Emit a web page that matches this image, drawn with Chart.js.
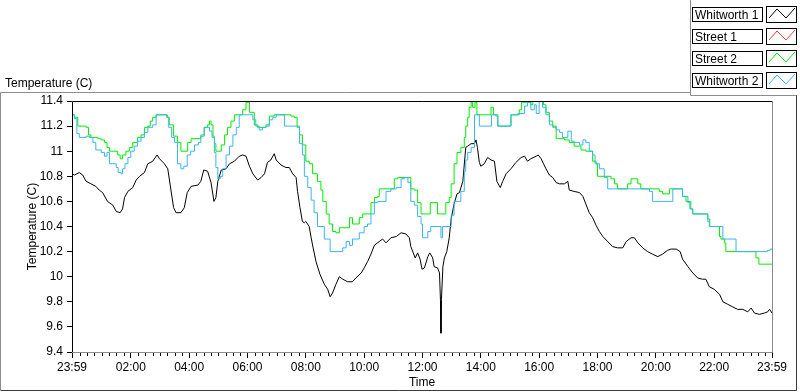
<!DOCTYPE html>
<html>
<head>
<meta charset="utf-8">
<title>Temperature (C)</title>
<script src="https://cdn.jsdelivr.net/npm/chart.js@4.4.1/dist/chart.umd.min.js"></script>
<style>
  html, body { margin: 0; padding: 0; background: #fff; }
  #wrap { position: relative; width: 800px; height: 392px; }
</style>
</head>
<body>
<div id="wrap"><canvas id="tempChart" width="800" height="392"></canvas></div>
<script>
// minutes after 23:59 of the first day
const tickMinutes = [0, 121, 241, 361, 481, 601, 721, 841, 961, 1081, 1201, 1321, 1440];
const tickLabels = ['23:59', '02:00', '04:00', '06:00', '08:00', '10:00', '12:00', '14:00', '16:00', '18:00', '20:00', '22:00', '23:59'];
const seriesNames = ['Whitworth 1', 'Street 1', 'Street 2', 'Whitworth 2'];
const seriesColors = ['#000000', '#ff3b3b', '#00ee00', '#3cb4f0'];

// Whitworth 1
const w1Time = [0,5,15,22,29,39,49,56,63,73,84,91,99,104,108,115,125,132,139,149,156,166,175,180,190,197,202,209,214,224,231,237,245,259,265,271,279,286,292,296,300,307,317,324,334,344,351,358,
  365,372,382,389,396,402,409,416,420,430,440,447,454,461,464,469,474,478,481,488,492,496,502,510,519,526,531,536,543,550,557,567,577,584,595,601,608,615,622,632,639,646,656,667,677,687,694,697,702,706,711,716,
  720,725,732,736,742,745,752,756,758,759,760,763,766,771,776,780,786,792,797,804,810,814,821,828,831,834,838,841,848,855,862,869,874,881,886,893,903,913,924,931,937,944,955,959,965,970,975,982,989,996,1003,1013,1020,1023,1033,1044,1051,1057,1064,
  1071,1078,1085,1092,1102,1112,1122,1133,1140,1150,1157,1164,1174,1184,1194,1205,1215,1225,1232,1243,1251,1256,1267,1277,1287,1297,1304,1311,1321,1332,1339,1349,1359,1369,1380,1390,1397,1404,1414,1424,1431,1435,1440];
const w1Temp = [10.82,10.81,10.83,10.81,10.76,10.74,10.72,10.69,10.67,10.60,10.57,10.52,10.51,10.54,10.63,10.68,10.71,10.77,10.80,10.83,10.90,10.92,10.97,10.94,10.90,10.86,10.73,10.55,10.51,10.51,10.55,10.67,10.72,10.73,10.76,10.85,10.84,10.75,10.60,10.63,10.76,10.85,10.86,10.90,10.92,10.96,10.97,10.96,
  10.88,10.82,10.77,10.79,10.82,10.91,10.93,10.98,10.93,10.89,10.87,10.87,10.82,10.79,10.68,10.55,10.44,10.43,10.44,10.40,10.31,10.23,10.12,10.02,9.94,9.90,9.84,9.87,9.94,10.00,9.98,9.96,9.96,9.99,10.03,10.07,10.12,10.18,10.25,10.28,10.30,10.27,10.31,10.32,10.35,10.34,10.31,10.24,10.19,10.15,10.19,10.14,
  10.06,10.07,10.16,10.19,10.15,10.08,10.07,10.03,9.81,9.55,9.82,10.08,10.15,10.20,10.31,10.46,10.58,10.66,10.67,10.76,11.03,11.04,11.06,11.06,11.09,11.03,10.91,10.88,10.90,10.95,10.93,10.92,10.76,10.71,10.76,10.82,10.86,10.91,10.95,10.96,10.92,10.94,10.96,10.97,10.94,10.90,10.86,10.81,10.79,10.75,10.74,10.74,10.76,10.69,10.68,10.67,10.64,10.58,10.51,
  10.47,10.41,10.36,10.32,10.28,10.24,10.23,10.23,10.28,10.31,10.31,10.27,10.23,10.20,10.18,10.16,10.18,10.21,10.22,10.22,10.20,10.14,10.08,10.03,9.99,9.98,9.98,9.92,9.90,9.86,9.80,9.78,9.76,9.74,9.74,9.72,9.75,9.71,9.70,9.71,9.72,9.74,9.71];

// Street 1 (no readings)
const s1Time = [];
const s1Temp = [];

// Street 2 (held readings)
const s2Time = [0,5,12,29,34,39,53,60,67,72,77,94,99,104,111,118,125,135,142,149,156,161,166,173,196,200,209,217,224,238,245,265,272,279,283,286,290,293,296,307,314,320,327,334,
  351,358,365,375,382,399,406,416,450,457,463,468,474,481,488,495,505,512,516,523,529,536,543,550,571,577,591,598,615,622,629,632,663,670,697,704,
  711,718,737,752,769,776,780,786,792,800,807,810,814,817,821,824,829,833,862,867,876,903,920,925,944,948,970,975,982,989,996,1013,1023,1033,1047,1057,
  1071,1078,1081,1109,1116,1122,1143,1150,1164,1170,1208,1215,1229,1256,1263,1273,1277,1308,1312,1332,1335,1342,1345,1407,1413,1440];
const s2Temp = [11.29,11.27,11.20,11.19,11.13,11.11,11.10,11.09,11.07,11.03,11.00,10.97,10.94,10.97,11.00,11.03,11.07,11.11,11.13,11.19,11.20,11.24,11.27,11.29,11.27,11.21,11.12,11.07,11.00,11.07,11.10,11.12,11.19,11.21,11.24,11.21,11.12,11.06,11.00,11.05,11.13,11.19,11.24,11.29,
  11.33,11.39,11.31,11.21,11.19,11.21,11.28,11.29,11.28,11.27,11.19,11.13,11.05,10.92,10.90,10.82,10.76,10.69,10.60,10.50,10.42,10.36,10.35,10.39,10.47,10.42,10.47,10.50,10.59,10.63,10.64,10.70,10.78,10.79,10.70,10.69,
  10.59,10.50,10.59,10.50,10.59,10.63,10.74,10.90,10.99,11.03,11.11,11.20,11.27,11.35,11.39,11.35,11.39,11.29,11.35,11.29,11.20,11.29,11.33,11.39,11.37,11.40,11.37,11.31,11.24,11.20,11.10,11.09,11.07,11.04,11.01,11.00,
  10.92,10.90,10.80,10.78,10.74,10.70,10.74,10.78,10.74,10.70,10.68,10.66,10.70,10.64,10.60,10.54,10.50,10.46,10.40,10.32,10.30,10.27,10.20,10.15,10.10,10.10];

// Whitworth 2 (held readings)
const w2Time = [0,5,10,15,29,36,43,49,60,67,72,77,91,95,101,104,109,115,121,128,135,142,149,156,166,173,195,199,205,211,217,224,230,237,244,252,260,265,272,283,288,293,296,300,305,310,317,324,331,338,344,
  372,378,385,392,399,406,413,420,437,468,474,478,485,492,498,505,519,531,557,564,571,577,591,601,608,615,622,629,646,656,667,677,684,691,697,704,711,718,
  721,732,738,759,762,780,786,800,807,810,814,821,828,838,863,872,876,903,917,931,937,944,951,955,961,968,975,982,989,996,1003,1009,1020,1027,1033,1044,1051,1057,1064,
  1071,1076,1085,1095,1102,1188,1194,1236,1256,1267,1271,1277,1308,1311,1339,1366,1431,1436,1440];
const w2Temp = [11.29,11.26,11.14,11.11,11.12,11.11,11.07,11.01,10.99,10.96,10.99,10.90,10.87,10.83,10.82,10.86,10.90,10.95,11.00,11.04,11.08,11.11,11.15,11.19,11.21,11.29,11.27,11.19,11.11,11.07,10.90,10.86,10.88,10.97,11.00,11.05,11.07,11.13,11.19,11.16,11.11,10.99,10.87,10.78,10.80,10.86,10.97,11.04,11.13,11.19,11.29,
  11.25,11.20,11.17,11.19,11.20,11.25,11.27,11.29,11.20,11.06,10.97,10.80,10.71,10.61,10.51,10.40,10.30,10.20,10.23,10.28,10.25,10.30,10.35,10.40,10.42,10.50,10.59,10.60,10.68,10.70,10.71,10.78,10.79,10.75,10.60,10.57,10.48,10.42,
  10.31,10.36,10.40,10.31,10.40,10.49,10.60,10.68,10.84,10.93,10.99,11.03,11.29,11.20,11.29,11.28,11.20,11.29,11.30,11.36,11.39,11.33,11.37,11.30,11.40,11.35,11.29,11.21,11.19,11.17,11.15,11.11,11.16,11.08,11.07,11.05,11.09,11.07,11.00,
  10.97,10.90,10.86,10.79,10.70,10.68,10.60,10.70,10.64,10.59,10.54,10.50,10.44,10.40,10.30,10.20,10.21,10.22,10.22];

const uiFont = "'Liberation Sans', Arial, sans-serif";

function toPoints(times, temps) {
    return times.map((t, i) => ({ x: t, y: temps[i] }));
}

// LabVIEW style panel, plot frame, minor ticks and plot legend
const panelPlugin = {
    id: 'panelPlugin',
    beforeDraw(chart) {
        const ctx = chart.ctx;
        ctx.save();
        ctx.fillStyle = '#ffffff';
        ctx.fillRect(0, 0, chart.width, chart.height);
        ctx.lineWidth = 1;
        ctx.strokeStyle = '#8c8c8c';
        ctx.beginPath();
        ctx.moveTo(0.5, 391); ctx.lineTo(0.5, 92.5); ctx.lineTo(690.5, 92.5);
        ctx.moveTo(690.5, 0); ctx.lineTo(690.5, 95.5); ctx.lineTo(797, 95.5);
        ctx.stroke();
        ctx.strokeStyle = '#3c3c3c';
        ctx.beginPath();
        ctx.moveTo(1, 390.5); ctx.lineTo(796.5, 390.5); ctx.lineTo(796.5, 95.5);
        ctx.stroke();
        ctx.fillStyle = '#000';
        ctx.font = '12px ' + uiFont;
        ctx.textBaseline = 'alphabetic';
        ctx.textAlign = 'left';
        ctx.fillText('Temperature (C)', 5, 87);
        ctx.restore();
    },
    afterDraw(chart) {
        const ctx = chart.ctx;
        const a = chart.chartArea;
        const xScale = chart.scales.x;
        ctx.save();
        ctx.lineWidth = 1;
        // plot frame: dark top/left, grey right/bottom
        ctx.strokeStyle = '#000';
        ctx.beginPath();
        ctx.moveTo(a.left + 0.5, a.bottom); ctx.lineTo(a.left + 0.5, a.top + 0.5); ctx.lineTo(a.right, a.top + 0.5);
        ctx.stroke();
        ctx.strokeStyle = '#8c8c8c';
        ctx.beginPath();
        ctx.moveTo(a.right + 0.5, a.top); ctx.lineTo(a.right + 0.5, a.bottom + 0.5); ctx.lineTo(a.left, a.bottom + 0.5);
        ctx.stroke();
        // minor ticks every 15 minutes
        ctx.strokeStyle = '#000';
        ctx.beginPath();
        for (let m = 16; m < 1440; m += 15) {
            if ((m - 1) % 120 === 0) continue;
            const px = Math.round(xScale.getPixelForValue(m)) + 0.5;
            ctx.moveTo(px, a.bottom + 1);
            ctx.lineTo(px, a.bottom + 4);
        }
        ctx.stroke();
        // plot legend
        ctx.font = '12px ' + uiFont;
        ctx.textAlign = 'left';
        ctx.textBaseline = 'alphabetic';
        chart.data.datasets.forEach((ds, i) => {
            const top = 6.5 + i * 22.3;
            ctx.fillStyle = '#fff';
            ctx.fillRect(692, top, 71, 15);
            ctx.strokeStyle = '#000';
            ctx.strokeRect(692.5, Math.round(top) + 0.5, 70, 14);
            ctx.fillStyle = '#000';
            ctx.fillText(ds.label, 695, Math.round(top) + 12);
            const iy = Math.round(top) - 1;
            ctx.strokeRect(766.5, iy + 0.5, 30, 16);
            ctx.strokeStyle = ds.borderColor;
            ctx.beginPath();
            ctx.moveTo(769, iy + 12);
            ctx.lineTo(777, iy + 3);
            ctx.lineTo(786, iy + 12);
            ctx.lineTo(795, iy + 2);
            ctx.stroke();
        });
        ctx.restore();
    }
};

const ctx = document.getElementById('tempChart').getContext('2d');
const tempChart = new Chart(ctx, {
    type: 'line',
    data: {
        datasets: [
            { label: seriesNames[0], data: toPoints(w1Time, w1Temp), borderColor: seriesColors[0], order: 3 },
            { label: seriesNames[1], data: toPoints(s1Time, s1Temp), borderColor: seriesColors[1], order: 2 },
            { label: seriesNames[2], data: toPoints(s2Time, s2Temp), borderColor: seriesColors[2], order: 1, stepped: true },
            { label: seriesNames[3], data: toPoints(w2Time, w2Temp), borderColor: seriesColors[3], order: 0, stepped: true }
        ]
    },
    options: {
        responsive: false,
        animation: false,
        layout: { padding: { top: 101, right: 28, left: 0, bottom: 0 } },
        elements: {
            line: { borderWidth: 1, tension: 0, fill: false },
            point: { radius: 0, hoverRadius: 0 }
        },
        plugins: {
            legend: { display: false },
            tooltip: { enabled: false }
        },
        scales: {
            x: {
                type: 'linear',
                min: 0,
                max: 1440,
                afterFit: s => { s.height = 40; },
                afterBuildTicks: s => { s.ticks = tickMinutes.map(v => ({ value: v })); },
                border: { display: false },
                grid: { drawOnChartArea: false, drawTicks: true, tickLength: 6, color: '#000' },
                ticks: {
                    autoSkip: false,
                    maxRotation: 0,
                    padding: 2,
                    color: '#000',
                    font: { family: uiFont, size: 12 },
                    callback: (v) => tickLabels[tickMinutes.indexOf(v)]
                },
                title: { display: true, text: 'Time', color: '#000', font: { family: uiFont, size: 12 }, padding: { top: 0, bottom: 2 } }
            },
            y: {
                min: 9.4,
                max: 11.4,
                afterFit: s => { s.width = 72; },
                border: { display: false },
                grid: { drawOnChartArea: false, drawTicks: true, tickLength: 5, color: '#000' },
                ticks: {
                    stepSize: 0.2,
                    padding: 4,
                    color: '#000',
                    font: { family: uiFont, size: 12 },
                    callback: (v) => String(parseFloat(Number(v).toFixed(1)))
                },
                title: { display: true, text: 'Temperature (C)', color: '#000', font: { family: uiFont, size: 12 }, padding: { top: 25, bottom: 0 } }
            }
        }
    },
    plugins: [panelPlugin]
});
</script>
</body>
</html>
